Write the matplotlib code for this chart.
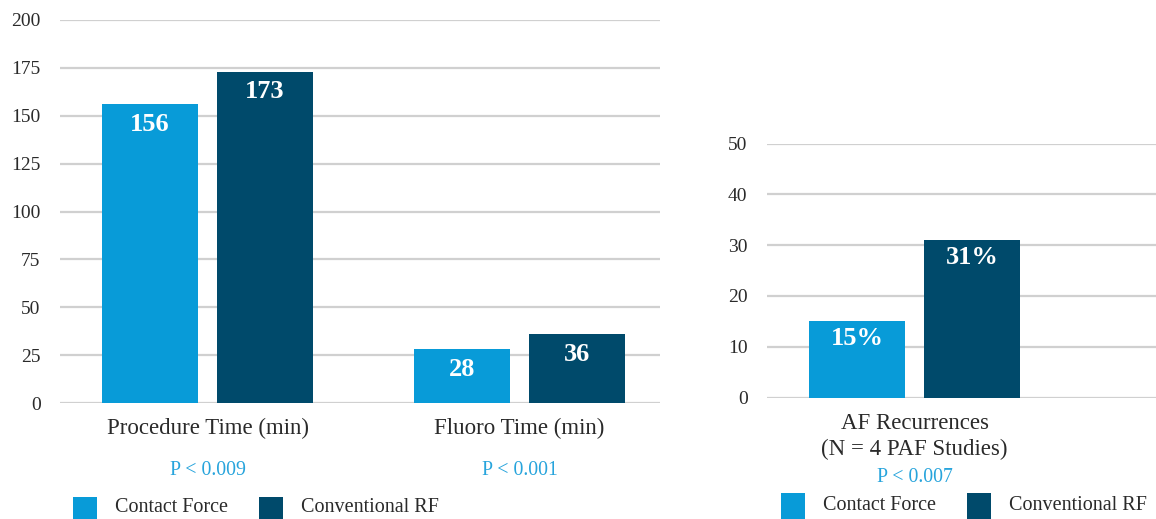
import matplotlib
matplotlib.use("Agg")
import matplotlib.pyplot as plt
from matplotlib.patches import Rectangle

# Data
left_categories = ["Procedure Time (min)", "Fluoro Time (min)"]
left_contact = [156, 28]
left_conventional = [173, 36]
left_pvalues = ["P < 0.009", "P < 0.001"]
left_yticks = [0, 25, 50, 75, 100, 125, 150, 175, 200]

right_categories = ["AF Recurrences\n(N = 4 PAF Studies)"]
right_contact = [15]
right_conventional = [31]
right_pvalues = ["P < 0.007"]
right_yticks = [0, 10, 20, 30, 40, 50]

series_names = ["Contact Force", "Conventional RF"]

LIGHT = "#089bd8"
DARK = "#004a6b"
PCOLOR = "#27a4dc"
GRID = "#d0d0d0"
TEXT = "#2a2a2a"
FONT = "Liberation Serif"

plt.rcParams["font.family"] = [FONT, "DejaVu Serif"]

W, H = 1156, 519
fig = plt.figure(figsize=(W / 100, H / 100), dpi=100)

BAR_W = 0.3077
OFFSET = 0.1843


def setup(ax, yticks, ymax):
    ax.set_ylim(0, ymax)
    ax.set_yticks(yticks)
    ax.set_yticklabels([str(t) for t in yticks], fontsize=14, color=TEXT)
    ax.tick_params(axis="y", length=0, pad=14)
    ax.tick_params(axis="x", length=0, pad=11, labelsize=16.5, labelcolor=TEXT)
    ax.grid(axis="y", color=GRID, linewidth=1.6)
    ax.set_axisbelow(True)
    for s in ax.spines.values():
        s.set_visible(False)


def draw(ax, cats, a, b, pvals, pv_offset, lab_offset, fmt):
    xs = list(range(len(cats)))
    bars_a = ax.bar([x - OFFSET for x in xs], a, width=BAR_W, color=LIGHT, zorder=3)
    bars_b = ax.bar([x + OFFSET for x in xs], b, width=BAR_W, color=DARK, zorder=3)
    for bars, vals in ((bars_a, a), (bars_b, b)):
        for r, v in zip(bars, vals):
            ax.annotate(fmt.format(v), xy=(r.get_x() + r.get_width() / 2, v),
                        xytext=(0, -lab_offset), textcoords="offset points",
                        ha="center", va="center", color="white",
                        fontsize=19, fontweight="bold", zorder=4)
    ax.set_xticks(xs)
    ax.set_xticklabels(cats, linespacing=1.3)
    for x, p in zip(xs, pvals):
        ax.annotate(p, xy=(x, 0), xycoords=("data", "axes fraction"),
                    xytext=(0, -pv_offset), textcoords="offset points",
                    ha="center", va="center", color=PCOLOR, fontsize=14.3)


# Left panel
ax1 = fig.add_axes([60 / W, (H - 403) / H, 600 / W, 383 / H])
setup(ax1, left_yticks, 200)
draw(ax1, left_categories, left_contact, left_conventional, left_pvalues, 48.5, 14.5, "{}")
ax1.set_xlim(-0.4728, 1.4503)

# Right panel
ax2 = fig.add_axes([767 / W, (H - 397.5) / H, 389 / W, 254 / H])
setup(ax2, right_yticks, 50)
draw(ax2, right_categories, right_contact, right_conventional, right_pvalues, 57.5, 12.5, "{}%")
ax2.set_xlim(-0.4728, 0.774)


def legend(x0, y_top, text_y, gap_px):
    # square swatch + label for each series, in pixel positions on the figure
    x = x0
    for name, col in zip(series_names, (LIGHT, DARK)):
        fig.add_artist(Rectangle((x / W, (H - y_top - 28) / H), 24 / W, 28 / H,
                                 transform=fig.transFigure, color=col, lw=0))
        fig.text((x + 42) / W, (H - text_y) / H, name, fontsize=14.5,
                 color=TEXT, va="center", ha="left")
        x += gap_px


legend(73, 497, 508, 186)
legend(781, 493, 505, 186)

fig.savefig("out.png", dpi=100)
